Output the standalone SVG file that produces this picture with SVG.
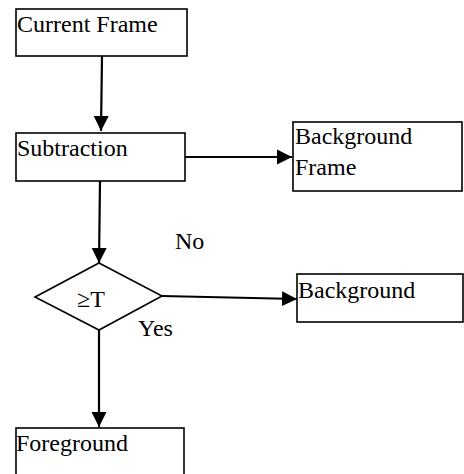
<svg xmlns="http://www.w3.org/2000/svg" width="464" height="474" viewBox="0 0 464 474">
<defs>
<style>
.box{fill:#fff;stroke:#000;stroke-width:1.6}
.t{font-family:"Liberation Serif","Times New Roman",serif;font-size:24px;fill:#000}
.c{fill:none;stroke:#000;stroke-width:2.2}
</style>
<marker id="ah" markerUnits="userSpaceOnUse" markerWidth="16" markerHeight="16" viewBox="0 0 16 16" refX="15" refY="8" orient="auto">
<path d="M0,0.5 L15,8 L0,15.5 Z" fill="#000"/>
</marker>
</defs>
<rect width="464" height="474" fill="#fff"/>
<g id="connectors">
<line class="c" x1="102" y1="56" x2="101" y2="131" marker-end="url(#ah)"/>
<line class="c" x1="185" y1="157" x2="292" y2="157" marker-end="url(#ah)"/>
<line class="c" x1="100" y1="181" x2="99" y2="263" marker-end="url(#ah)"/>
<line class="c" x1="162" y1="296" x2="297" y2="299" marker-end="url(#ah)"/>
<line class="c" x1="99" y1="330" x2="99" y2="427" marker-end="url(#ah)"/>
</g>
<g id="current-frame">
<rect class="box" x="16" y="9" width="171" height="47"/>
<text class="t" x="17" y="32">Current Frame</text>
</g>
<g id="subtraction">
<rect class="box" x="16" y="133" width="169" height="48"/>
<text class="t" x="17" y="156">Subtraction</text>
</g>
<g id="background-frame">
<rect class="box" x="293" y="122" width="169" height="69"/>
<text class="t" x="295" y="144">Background</text>
<text class="t" x="295" y="175">Frame</text>
</g>
<g id="threshold">
<polygon class="box" points="99,263 162,296 99,330 35,297"/>
<text class="t" x="77" y="307">≥T</text>
</g>
<g id="labels">
<text class="t" x="175" y="249">No</text>
<text class="t" x="138" y="336">Yes</text>
</g>
<g id="background">
<rect class="box" x="297" y="274" width="166" height="48"/>
<text class="t" x="298" y="298">Background</text>
</g>
<g id="foreground">
<rect class="box" x="16" y="428" width="168" height="50"/>
<text class="t" x="16" y="451">Foreground</text>
</g>
</svg>
